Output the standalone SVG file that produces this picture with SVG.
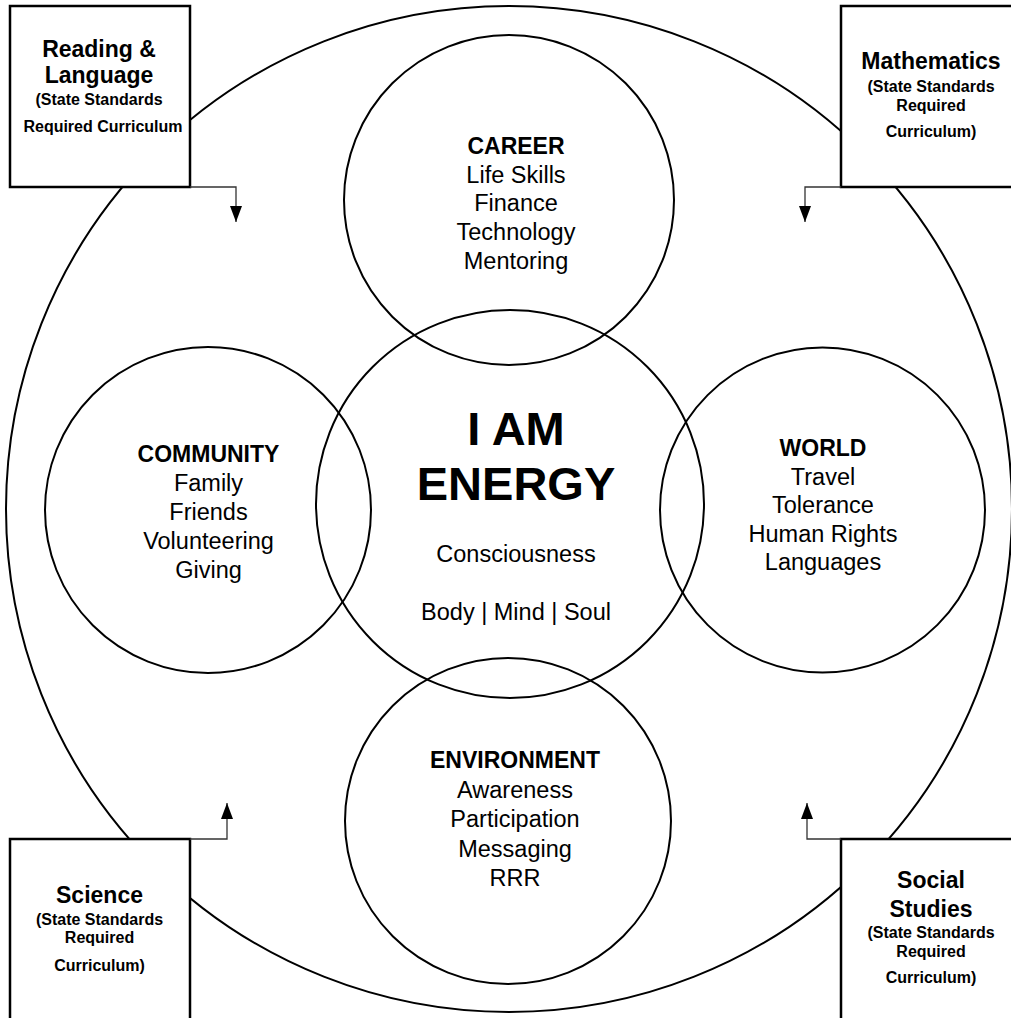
<svg xmlns="http://www.w3.org/2000/svg" width="1011" height="1018" viewBox="0 0 1011 1018">
<defs>
<style>
.c{fill:none;stroke:#000;stroke-width:2}
.b{fill:#fff;stroke:#000;stroke-width:2.5}
text{font-family:"Liberation Sans",Arial,sans-serif;fill:#000;text-anchor:middle}
.h{font-weight:bold;font-size:23px}
.t{font-size:23.5px}
.big{font-weight:bold;font-size:47px}
.m{font-size:23.5px}
.bt{font-weight:bold;font-size:23px}
.bs{font-weight:bold;font-size:16px}
.conn{fill:none;stroke:#333;stroke-width:1.3}
</style>
<marker id="ah" viewBox="0 0 16 12" refX="16" refY="6" markerWidth="16" markerHeight="12" markerUnits="userSpaceOnUse" orient="auto">
<path d="M0,0 L16,6 L0,12 Z" fill="#000"/>
</marker>
</defs>
<rect width="1011" height="1018" fill="#fff"/>
<g id="outer-circle"><circle class="c" cx="509" cy="509" r="503"/></g>
<g id="career">
<circle class="c" cx="509" cy="200" r="165"/>
<text class="h" x="516" y="154">CAREER</text>
<text class="t" x="516" y="183">Life Skills</text>
<text class="t" x="516" y="211">Finance</text>
<text class="t" x="516" y="240">Technology</text>
<text class="t" x="516" y="269">Mentoring</text>
</g>
<g id="center">
<circle class="c" cx="510" cy="504" r="194"/>
<text class="big" x="516" y="445">I AM</text>
<text class="big" x="516" y="500">ENERGY</text>
<text class="m" x="516" y="562">Consciousness</text>
<text class="m" x="516" y="620">Body | Mind | Soul</text>
</g>
<g id="community">
<circle class="c" cx="208" cy="510" r="163"/>
<text class="h" x="208.5" y="462">COMMUNITY</text>
<text class="t" x="208.5" y="491">Family</text>
<text class="t" x="208.5" y="520">Friends</text>
<text class="t" x="208.5" y="549">Volunteering</text>
<text class="t" x="208.5" y="578">Giving</text>
</g>
<g id="world">
<circle class="c" cx="822.5" cy="510" r="162.5"/>
<text class="h" x="823" y="456">WORLD</text>
<text class="t" x="823" y="485">Travel</text>
<text class="t" x="823" y="513">Tolerance</text>
<text class="t" x="823" y="542">Human Rights</text>
<text class="t" x="823" y="570">Languages</text>
</g>
<g id="environment">
<circle class="c" cx="508" cy="821" r="163"/>
<text class="h" x="515" y="768">ENVIRONMENT</text>
<text class="t" x="515" y="797.5">Awareness</text>
<text class="t" x="515" y="827">Participation</text>
<text class="t" x="515" y="856.5">Messaging</text>
<text class="t" x="515" y="886">RRR</text>
</g>
<g id="reading-language">
<rect class="b" x="10" y="6" width="180" height="181"/>
<text class="bt" x="99" y="57">Reading &amp;</text>
<text class="bt" x="99" y="83">Language</text>
<text class="bs" x="99" y="105">(State Standards</text>
<text class="bs" x="103" y="132">Required Curriculum</text>
</g>
<g id="mathematics">
<rect class="b" x="841" y="6" width="180" height="181"/>
<text class="bt" x="931" y="69">Mathematics</text>
<text class="bs" x="931" y="92">(State Standards</text>
<text class="bs" x="931" y="111">Required</text>
<text class="bs" x="931" y="137">Curriculum)</text>
</g>
<g id="science">
<rect class="b" x="10" y="839" width="180" height="190"/>
<text class="bt" x="99.5" y="903">Science</text>
<text class="bs" x="99.5" y="925">(State Standards</text>
<text class="bs" x="99.5" y="943">Required</text>
<text class="bs" x="99.5" y="971">Curriculum)</text>
</g>
<g id="social-studies">
<rect class="b" x="841" y="839" width="180" height="190"/>
<text class="bt" x="931" y="888">Social</text>
<text class="bt" x="931" y="917">Studies</text>
<text class="bs" x="931" y="938">(State Standards</text>
<text class="bs" x="931" y="957">Required</text>
<text class="bs" x="931" y="983">Curriculum)</text>
</g>
<g id="connectors">
<path class="conn" d="M190,187 H236 V222" marker-end="url(#ah)"/>
<path class="conn" d="M841,187 H805 V222" marker-end="url(#ah)"/>
<path class="conn" d="M190,839 H227 V803" marker-end="url(#ah)"/>
<path class="conn" d="M841,839 H807 V803" marker-end="url(#ah)"/>
</g>
</svg>
